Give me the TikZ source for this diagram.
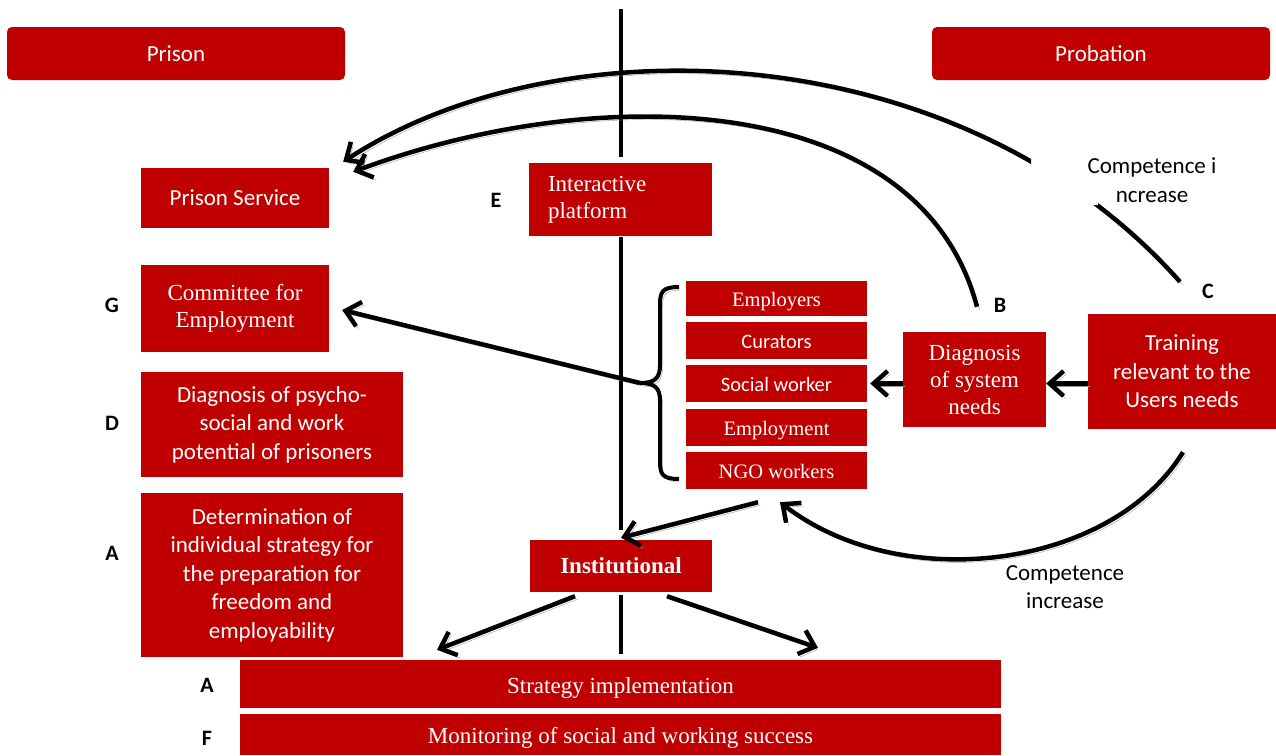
\documentclass[tikz,border=0pt]{standalone}
\usepackage{fontspec}
\setmainfont{Liberation Serif}
\newfontfamily\carl{Carlito}
\usetikzlibrary{arrows.meta}
\definecolor{boxred}{HTML}{C00000}
\definecolor{shadowgray}{HTML}{9A9A9A}
\begin{document}
\begin{tikzpicture}[x=1pt,y=-1pt,
 box/.style={fill=boxred, text=white, inner sep=0pt, align=center},
 sanstext/.style={font={\carl\fontsize{23}{28.5}\selectfont}},
 seriftext/.style={font={\fontsize{23}{27}\selectfont}},
 stacksans/.style={font={\carl\fontsize{20.5}{24}\selectfont}, text height=16pt, text depth=0pt},
 stackserif/.style={font={\fontsize{20.5}{24}\selectfont}, text height=16pt, text depth=0pt},
 lowtext/.style={text height=18pt, text depth=0pt},
 lbl/.style={font={\carl\bfseries\fontsize{22}{26}\selectfont}},
 header/.style={box, rounded corners=5pt, sanstext},
 shadowed/.style={preaction={draw=shadowgray, transform canvas={xshift=2.5pt, yshift=-3pt}}},
 arr/.style={line width=4.5pt, -{Straight Barb[length=14pt,width=25pt]}, shadowed},
 divider/.style={line width=4pt},
 bracestyle/.style={line width=4pt, shadowed},
]
\useasboundingbox (0,0) rectangle (1276,755);

% headers
\node[header, minimum width=338pt, minimum height=53pt] (prison) at (176,53.5) {Prison};
\node[header, minimum width=338pt, minimum height=53pt] (probation) at (1101,53.5) {Probation};

% left column
\node[box, sanstext, minimum width=188pt, minimum height=60pt] (ps) at (235,198) {Prison Service};
\node[box, seriftext, minimum width=188pt, minimum height=87pt] (com) at (235,308.5) {Committee for\\Employment};
\node[box, sanstext, minimum width=262pt, minimum height=105pt] (dpsy) at (272,424.5) {Diagnosis of psycho-\\social and work\\potential of prisoners};
\node[box, sanstext, minimum width=262pt, minimum height=164pt] (det) at (272,575) {Determination of\\individual strategy for\\the preparation for\\freedom and\\employability};

% centre
\node[box, seriftext, align=left, text width=145pt, inner xsep=19pt, minimum height=73pt] (ip) at (620.5,199.5) {Interactive\\platform};
\node[box, font={\bfseries\fontsize{23}{27}\selectfont}, minimum width=182pt, minimum height=52pt] (inst) at (621,566) {Institutional};

% stack
\node[box, stackserif, minimum width=181pt, minimum height=35pt] (emp) at (776.5,298.5) {Employers};
\node[box, stacksans, minimum width=181pt, minimum height=37pt] (cur) at (776.5,340.5) {Curators};
\node[box, stacksans, minimum width=181pt, minimum height=37pt] (sw) at (776.5,383.5) {Social worker};
\node[box, stackserif, minimum width=181pt, minimum height=37pt] (empl) at (776.5,427.5) {Employment};
\node[box, stackserif, minimum width=181pt, minimum height=37pt] (ngo) at (776.5,470.5) {NGO workers};

% right
\node[box, seriftext, minimum width=143pt, minimum height=95pt] (diagsys) at (974.5,379.5) {Diagnosis\\of system\\needs};
\node[box, sanstext, minimum width=188pt, minimum height=115pt] (train) at (1182,371.5) {Training\\relevant to the\\Users needs};

% bottom bars
\node[box, seriftext, lowtext, minimum width=761pt, minimum height=48pt] (strat) at (620.5,684) {Strategy implementation};
\node[box, seriftext, lowtext, minimum width=761pt, minimum height=41pt] (mon) at (620.5,734.5) {Monitoring of social and working success};

% letter labels
\node[lbl] (lE) at (496,200) {E};
\node[lbl] (lG) at (112,305) {G};
\node[lbl] (lD) at (112,423) {D};
\node[lbl] (lA1) at (112,553) {A};
\node[lbl] (lB) at (1000,305) {B};
\node[lbl] (lC) at (1208,291) {C};
\node[lbl] (lA2) at (207,685) {A};
\node[lbl] (lF) at (207,738) {F};

% competence texts
\node[sanstext, align=center] (comp1) at (1152,180) {Competence i\\ncrease};
\node[sanstext, align=center] (comp2) at (1065,587) {Competence\\increase};

% vertical divider
\coordinate (vtop) at (621,9);
\coordinate (vbot) at (621,654);
\draw[divider] (vtop) -- ([yshift=6pt]ip.north -| vtop);
\draw[divider] ([yshift=-1pt]ip.south -| vtop) -- ([yshift=10pt]inst.north -| vtop);
\draw[divider] ([yshift=-3pt]inst.south -| vtop) -- (vbot);

% brace
\coordinate (btip) at (640,383);
\draw[bracestyle] (679,287) .. controls (662,287) and (660,292) .. (660,305) -- (660,365)
  .. controls (660,378) and (655,383) .. (btip)
  .. controls (655,383) and (660,388) .. (660,401) -- (660,461)
  .. controls (660,474) and (662,479) .. (679,479);

% straight arrows
\draw[arr] (btip) -- ([xshift=13pt,yshift=-1.5pt]com.east);
\draw[arr] (train.west |- sw.east) -- (diagsys.east |- sw.east);
\draw[arr] (diagsys.west |- sw.east) -- ([xshift=3pt]sw.east);
\draw[arr] ([xshift=-18.5pt,yshift=-13pt]ngo.south) -- ([yshift=2pt]inst.north);
\draw[arr] ([xshift=-46pt,yshift=-4pt]inst.south) -- ([xshift=-183.5pt,yshift=10pt]strat.north);
\draw[arr] ([xshift=46pt,yshift=-4pt]inst.south) -- ([xshift=197.5pt,yshift=12pt]strat.north);

% curved arrows
\begin{scope}[even odd rule]
\clip (0,0) rectangle (1276,755) (1031,100) rectangle (1098,205);
\draw[arr] ([xshift=-2pt,yshift=32pt]train.north) .. controls (960,34) and (560,20) .. ([xshift=14pt,yshift=6pt]ps.north east);
\end{scope}
\draw[arr] ([xshift=2.5pt,yshift=25pt]diagsys.north) .. controls (920,90) and (600,80) .. ([xshift=24pt,yshift=-4pt]ps.north east);
\draw[arr] ([xshift=1pt,yshift=-23pt]train.south) .. controls (1110,570) and (900,595) .. ([xshift=3.5pt,yshift=-13pt]ngo.south);
\end{tikzpicture}
\end{document}
